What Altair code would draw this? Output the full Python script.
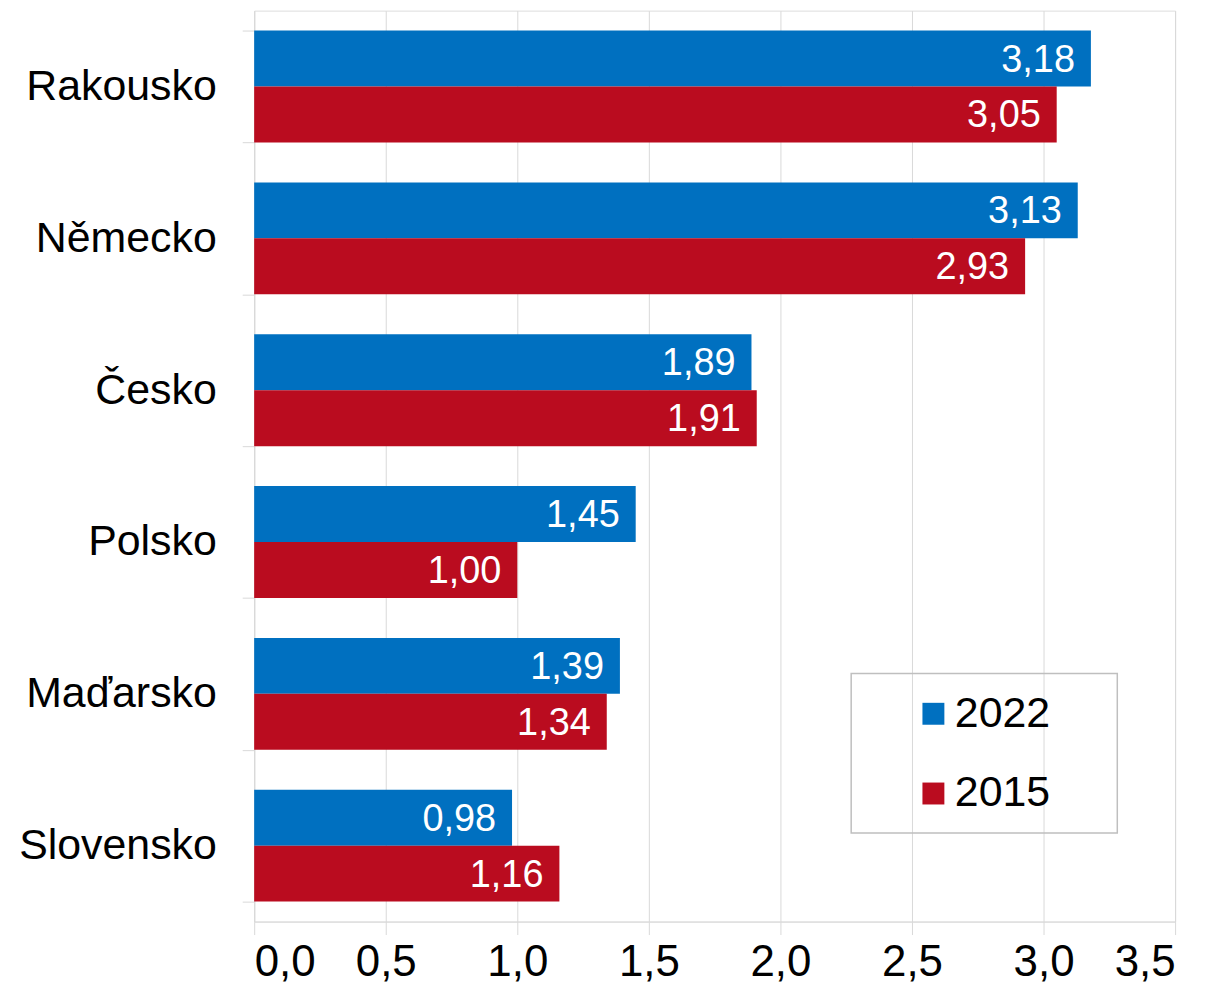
import altair as alt
import pandas as pd

countries = ["Rakousko", "Německo", "Česko", "Polsko", "Maďarsko", "Slovensko"]
years = ["2022", "2015"]
values_2022 = [3.18, 3.13, 1.89, 1.45, 1.39, 0.98]
values_2015 = [3.05, 2.93, 1.91, 1.00, 1.34, 1.16]
x_ticks = [0, 0.5, 1, 1.5, 2, 2.5, 3, 3.5]
colors = ["#0070C0", "#BA0C1F"]

rows = []
for c, a, b in zip(countries, values_2022, values_2015):
    rows.append({"country": c, "year": "2022", "value": a})
    rows.append({"country": c, "year": "2015", "value": b})
df = pd.DataFrame(rows)
df["label"] = df["value"].map(lambda v: f"{v:.2f}".replace(".", ","))

FONT = "Liberation Sans"

y_enc = alt.Y(
    "country:N",
    sort=countries,
    scale=alt.Scale(paddingInner=0.263, paddingOuter=0.1315),
    axis=alt.Axis(
        title=None,
        tickBand="extent",
        grid=False,
        ticks=True,
        tickSize=12,
        tickColor="#D9D9D9",
        domainColor="#D9D9D9",
        labelFontSize=43,
        labelFont=FONT,
        labelColor="#000000",
        labelPadding=26,
        labelLimit=400,
    ),
)
yoff = alt.YOffset("year:N", sort=years, scale=alt.Scale(paddingInner=0, paddingOuter=0))
x_enc = alt.X(
    "value:Q",
    scale=alt.Scale(domain=[0, 3.5], nice=False),
    axis=alt.Axis(
        title=None,
        values=x_ticks,
        labelExpr="replace(format(datum.value, '.1f'), '.', ',')",
        grid=True,
        gridColor="#D9D9D9",
        tickColor="#D9D9D9",
        domainColor="#D9D9D9",
        tickSize=13,
        labelFontSize=44,
        labelFont=FONT,
        labelColor="#000000",
        labelPadding=6,
    ),
)

bars = alt.Chart(df).mark_bar().encode(
    y=y_enc,
    yOffset=yoff,
    x=x_enc,
    color=alt.Color(
        "year:N",
        sort=years,
        scale=alt.Scale(domain=years, range=colors),
        legend=alt.Legend(
            title=None,
            orient="none",
            legendX=660,
            legendY=684,
            padding=0,
            symbolType="square",
            symbolSize=484,
            symbolStrokeWidth=0,
            labelFontSize=43,
            labelFont=FONT,
            labelColor="#000000",
            labelOffset=0,
            rowPadding=36,
        ),
    ),
)

texts = alt.Chart(df).mark_text(
    align="right", baseline="middle", dx=-16, dy=2, color="white", fontSize=38, font=FONT
).encode(
    y=alt.Y("country:N", sort=countries),
    yOffset=alt.YOffset("year:N", sort=years),
    x=alt.X("value:Q"),
    text="label:N",
)

box = alt.Chart(pd.DataFrame({"k": [0]})).mark_rect(
    fill=None, stroke="#BFBFBF", strokeWidth=1.5
).encode(
    x=alt.value(599), x2=alt.value(866), y=alt.value(665), y2=alt.value(825)
)

chart = alt.layer(bars, texts, box).properties(
    width=924,
    height=914,
    autosize=alt.AutoSizeParams(type="none"),
    padding={"left": 247, "top": 1, "right": 30, "bottom": 64},
).configure_view(stroke=None).configure(background="white")

chart.save("out.html", embed_options={"renderer": "svg", "actions": False})
